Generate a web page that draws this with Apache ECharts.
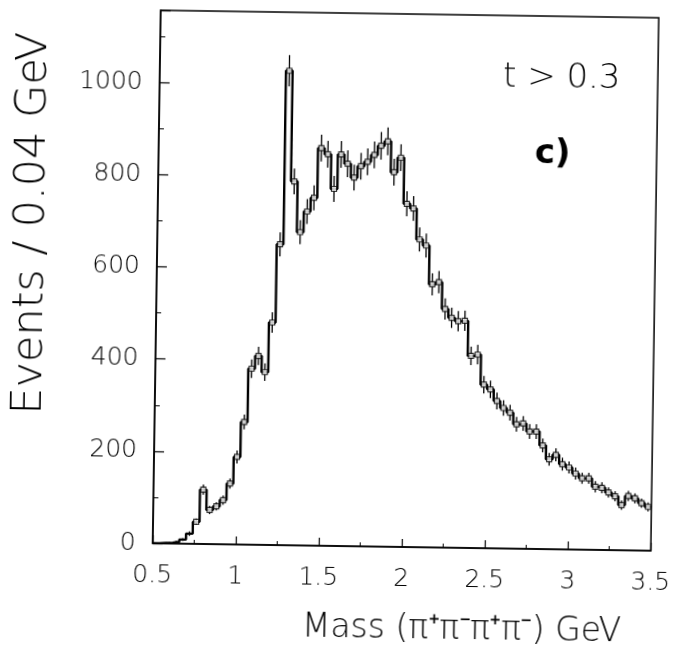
<!DOCTYPE html>
<html><head><meta charset="utf-8">
<script src="https://cdn.jsdelivr.net/npm/echarts@6/dist/echarts.min.js"></script>
<style>
html,body{margin:0;padding:0;background:#fff;overflow:hidden}
#c{width:677px;height:651px;transform:rotate(0.86deg);transform-origin:338.5px 325.5px}
</style>
</head><body><div id="c"></div>
<script>
// histogram: 75 bins of 0.04 GeV from 0.5 to 3.5 GeV
const binStart = 0.5;
const binWidth = 0.04;
const counts = [
  0, 1, 2, 4, 9, 22, 48, 118, 74, 82,
  96, 132, 190, 266, 382, 410, 375, 483, 653, 1030,
  790, 680, 725, 755, 863, 850, 775, 850, 830, 800,
  825, 835, 850, 870, 880, 813, 845, 745, 735, 668,
  655, 571, 576, 518, 499, 492, 493, 417, 420, 355,
  345, 320, 305, 295, 270, 272, 255, 255, 225, 195,
  205, 185, 178, 165, 155, 155, 137, 135, 125, 117,
  98, 118, 113, 103, 95
];
const errors = [
  0, 1, 1, 2, 3, 5, 7, 11, 9, 9,
  10, 11, 14, 16, 20, 20, 19, 22, 26, 34,
  28, 26, 27, 27, 29, 29, 28, 29, 29, 28,
  29, 29, 29, 30, 30, 29, 29, 27, 27, 26,
  26, 24, 24, 23, 22, 22, 22, 20, 21, 19,
  19, 18, 17, 17, 16, 16, 16, 16, 15, 14,
  14, 14, 13, 13, 12, 12, 12, 12, 11, 11,
  10, 11, 11, 10, 10
];
const yTickLabels = ['0', '200', '400', '600', '800', '1000'];
const xTickLabels = ['0.5', '1', '1.5', '2', '2.5', '3', '3.5'];
const yTitle = 'Events / 0.04 GeV';
const xTitle = 'Mass (\u03C0\u207A\u03C0\u207B\u03C0\u207A\u03C0\u207B) GeV';
const cutLabel = 't > 0.3';
const panelLabel = 'c)';

const FONT = "'DejaVu Sans', sans-serif";
const stepData = counts.map((v, i) => [+(binStart + i * binWidth).toFixed(2), v]);
stepData.push([+(binStart + counts.length * binWidth).toFixed(2), counts[counts.length - 1]]);
const errData = counts.map((v, i) => [+(binStart + (i + 0.5) * binWidth).toFixed(3), v, errors[i]]);
const pointData = counts.map((v, i) => [+(binStart + (i + 0.5) * binWidth).toFixed(3), v]).filter(p => p[1] > 40);

const chart = echarts.init(document.getElementById('c'), null, {renderer: 'canvas'});
chart.setOption({
  animation: false,
  backgroundColor: '#fff',
  grid: {left: 156, right: 20, top: 13, bottom: 105, show: true, borderColor: '#000', borderWidth: 1.5},
  xAxis: {
    type: 'value', min: 0.5, max: 3.5, interval: 0.5,
    axisLine: {lineStyle: {color: '#000', width: 1.5}},
    axisTick: {inside: true, length: 8, lineStyle: {color: '#000', width: 1.2}},
    minorTick: {show: true, splitNumber: 2, length: 4, lineStyle: {color: '#000', width: 1}},
    splitLine: {show: false},
    axisLabel: {color: '#000', fontFamily: FONT, fontSize: 25, fontWeight: 200, margin: 20,
      formatter: v => xTickLabels[Math.round((v - 0.5) / 0.5)] ?? ''}
  },
  yAxis: {
    type: 'value', min: 0, max: 1157, interval: 200,
    axisLine: {show: true, lineStyle: {color: '#000', width: 1.5}},
    axisTick: {inside: true, length: 10, lineStyle: {color: '#000', width: 1.2}},
    minorTick: {show: true, splitNumber: 2, length: 5, lineStyle: {color: '#000', width: 1}},
    splitLine: {show: false},
    axisLabel: {color: '#000', fontFamily: FONT, fontSize: 25, fontWeight: 200, margin: 17, showMaxLabel: false,
      formatter: v => yTickLabels[Math.round(v / 200)] ?? ''}
  },
  series: [
    {
      type: 'line', step: 'end', data: stepData, symbol: 'none',
      lineStyle: {color: '#000', width: 2.4}, z: 3
    },
    {
      type: 'custom', data: errData, z: 4,
      renderItem: function (params, api) {
        const x = api.value(0), v = api.value(1), e = api.value(2);
        const p1 = api.coord([x, v - e]);
        const p2 = api.coord([x, v + e]);
        return {type: 'line', shape: {x1: p1[0], y1: p1[1], x2: p2[0], y2: p2[1]},
          style: {stroke: '#000', lineWidth: 1.3}};
      }
    },
    {
      type: 'scatter', data: pointData, symbol: 'rect', symbolSize: 5, z: 5,
      itemStyle: {color: '#fff', borderColor: '#000', borderWidth: 1.2}
    }
  ],
  graphic: [
    {type: 'text', x: 31, y: 228, rotation: Math.PI / 2,
      style: {text: yTitle, fill: '#000', font: '200 43px ' + FONT, textAlign: 'center', textVerticalAlign: 'middle'}},
    {type: 'text', x: 466, y: 628,
      style: {text: xTitle, fill: '#000', font: '200 33px ' + FONT, textAlign: 'center', textVerticalAlign: 'middle'}},
    {type: 'text', x: 558, y: 75,
      style: {text: cutLabel, fill: '#000', font: '200 34px ' + FONT, textAlign: 'center', textVerticalAlign: 'middle'}},
    {type: 'text', x: 550, y: 151,
      style: {text: panelLabel, fill: '#000', font: 'bold 34px ' + FONT, textAlign: 'center', textVerticalAlign: 'middle'}}
  ]
});
</script>
</body></html>
